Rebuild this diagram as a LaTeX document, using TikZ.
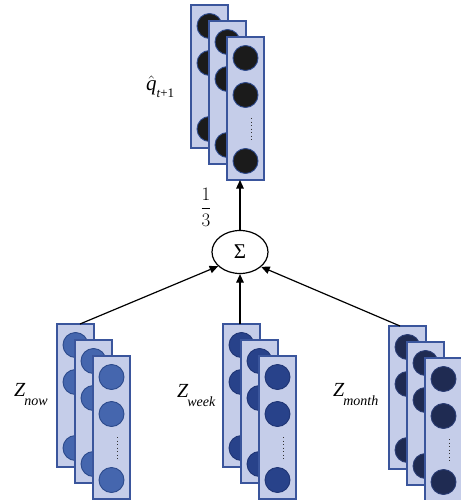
\RequirePackage{fix-cm}
\documentclass[tikz,border=0pt]{standalone}
\usepackage{fontspec}
\setmainfont{Liberation Serif}
\usetikzlibrary{calc,shapes.geometric,arrows.meta}

% palette
\definecolor{layerfill}{HTML}{C5CDE9}
\definecolor{layerline}{HTML}{3A559C}
\definecolor{nowfill}{HTML}{4566AE}
\definecolor{nowedge}{HTML}{2C4A8C}
\definecolor{weekfill}{HTML}{28428A}
\definecolor{weekedge}{HTML}{1F3575}
\definecolor{monthfill}{HTML}{1F2B52}
\definecolor{monthedge}{HTML}{2A3C74}
\definecolor{topfill}{HTML}{1B1B1B}
\definecolor{topedge}{HTML}{2E4A8C}
\definecolor{dotcolor}{HTML}{333333}

\tikzset{
  layer/.style={draw=layerline, fill=layerfill, line width=1.2pt,
    minimum width=37pt, minimum height=143pt, inner sep=0pt, outer sep=0pt,
    anchor=north west},
  unit/.style={circle, fill=#1fill, draw=#1edge, line width=0.9pt,
    minimum size=25pt, inner sep=0pt},
  dots/.style={line width=1.4pt, draw=dotcolor, dash pattern=on 1.3pt off 2.2pt},
  link/.style={line width=1.2pt, -{Triangle[length=8.5pt,width=7.5pt]}},
  lab/.style={inner sep=0pt, anchor=base west},
}

% three stacked feature layers: #1 name (also colour key), #2,#3 top-left corner
\newcommand\netstack[3]{%
  \foreach \i/\dx/\dy in {1/0/0,2/18/16,3/36/32}{%
    \node[layer] (#1\i) at (#2+\dx,#3+\dy) {};
    \node[unit=#1] (#1\i-a) at ($(#1\i.north)+(0,21)$) {};
    \node[unit=#1] (#1\i-b) at ($(#1\i.north)+(0,58)$) {};
    \node[unit=#1] (#1\i-c) at ($(#1\i.north)+(0,124)$) {};
    \coordinate (#1\i-d1) at ($(#1\i.north)+(6,81)$);
    \coordinate (#1\i-d2) at ($(#1\i.north)+(6,104)$);
    \draw[dots] (#1\i-d1) -- (#1\i-d2);
  }%
}

\newcommand\zlab[2]{{\fontsize{20}{22}\selectfont\itshape #1}\kern-1pt\raisebox{-9pt}{\fontsize{14}{16}\selectfont\itshape #2}}

\begin{document}
\begin{tikzpicture}[x=1pt,y=-1pt]
  \useasboundingbox (0,0) rectangle (460,500);
  \fill[white] (0,0) rectangle (460,500);

  \netstack{top}{191}{5}
  \netstack{now}{57}{324}
  \netstack{week}{223}{324}
  \netstack{month}{389}{326}

  % summation node
  \node[ellipse, draw, line width=1.2pt, minimum width=56pt, minimum height=43pt,
        inner sep=0pt] (sig) at (240,252) {\fontsize{21}{24}\selectfont Σ};

  \coordinate (nowout) at ($(now1.north)+(4.5,0)$);
  \coordinate (weekout) at (sig.south |- week1.north);
  \coordinate (monthout) at ($(month1.north)+(-7.5,0)$);
  \coordinate (topin) at (sig.north |- top3.south);

  \draw[link] (nowout) -- (sig.213);
  \draw[link] (weekout) -- (sig.south);
  \draw[link] (monthout) -- (sig.325);
  \draw[link] (sig.north) -- (topin);

  % labels
  \node[lab] (qhat) at (146,91) {\fontsize{21}{23}\selectfont$\hat{\hbox{\itshape q}}$\raisebox{-7pt}{\fontsize{13}{15}\selectfont{\itshape t}+1}};
  \node[inner sep=0pt] (third) at (206,207) {\fontsize{19}{22}\selectfont$\displaystyle\frac{1}{3}$};
  \node[lab] (znow) at (14,396) {\zlab{Z}{now}};
  \node[lab] (zweek) at (177,397) {\zlab{Z}{week}};
  \node[lab] (zmonth) at (333,396) {\zlab{Z}{month}};
\end{tikzpicture}
\end{document}
